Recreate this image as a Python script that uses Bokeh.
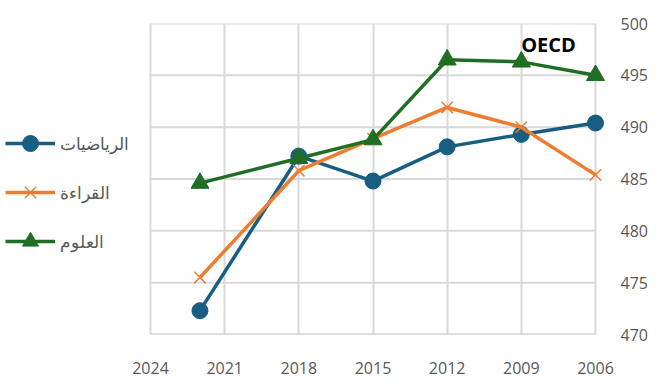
from bokeh.plotting import figure
from bokeh.models import Range1d, FixedTicker, Legend, LegendItem, Label
from bokeh.embed import file_html
from bokeh.resources import INLINE

years = [2022, 2018, 2015, 2012, 2009, 2006]
math_scores = [472.3, 487.2, 484.8, 488.1, 489.3, 490.4]
reading_scores = [475.5, 485.8, 488.9, 491.9, 490.0, 485.4]
science_scores = [484.6, 487.0, 488.8, 496.5, 496.3, 495.0]
series_names = ["الرياضيات", "القراءة", "العلوم"]
x_ticks = [2024, 2021, 2018, 2015, 2012, 2009, 2006]
y_ticks = [470, 475, 480, 485, 490, 495, 500]
title_text = "OECD"

FONT = "Open Sans"
GRAY = "#595959"
GRID = "#d9d9d9"
AXIS = "#bfbfbf"

# frame covers the legend area on the left and a little margin right of 2006
x_left = 2024 + 150 / 24.72
x_right = 2006 - 10 / 24.72

p = figure(width=657, height=382, output_backend="svg", toolbar_location=None,
           x_range=Range1d(x_left, x_right), y_range=Range1d(470, 500),
           y_axis_location="right",
           min_border_left=0, min_border_right=52, min_border_top=23, min_border_bottom=48)
p.outline_line_color = None
p.background_fill_color = "white"
p.border_fill_color = "white"

p.xaxis.ticker = FixedTicker(ticks=x_ticks)
p.yaxis.ticker = FixedTicker(ticks=y_ticks)
p.xgrid.ticker = FixedTicker(ticks=x_ticks)
p.xgrid.grid_line_color = GRID
p.xgrid.grid_line_width = 2
p.ygrid.grid_line_color = None
for ax in (p.xaxis, p.yaxis):
    ax.axis_line_color = None
    ax.major_tick_line_color = None
    ax.minor_tick_line_color = None
    ax.major_label_text_font = FONT
    ax.major_label_text_font_size = "16px"
    ax.major_label_text_color = GRAY
p.xaxis.major_label_standoff = 21
p.yaxis.major_label_standoff = 9

# horizontal gridlines limited to the plotting area 2024..2006
grid_y = [t for t in y_ticks if t != 470]
p.segment(x0=[x_ticks[0]] * len(grid_y), x1=[x_ticks[-1]] * len(grid_y),
          y0=grid_y, y1=grid_y, line_color=GRID, line_width=2)
p.segment(x0=[x_ticks[0]], x1=[x_ticks[-1]], y0=[y_ticks[0]], y1=[y_ticks[0]],
          line_color=AXIS, line_width=2)

colors = ["#175e82", "#ed7d31", "#1f6e23"]
r1 = p.line(years, math_scores, line_color=colors[0], line_width=3.5)
m1 = p.scatter(years, math_scores, marker="circle", size=16, fill_color=colors[0], line_color=colors[0])
r2 = p.line(years, reading_scores, line_color=colors[1], line_width=3.5)
m2 = p.scatter(years, reading_scores, marker="x", size=16, line_color=colors[1], line_width=1.5)
r3 = p.line(years, science_scores, line_color=colors[2], line_width=3.5)
m3 = p.scatter(years, science_scores, marker="triangle", size=18, fill_color=colors[2], line_color=colors[2])

legend = Legend(items=[
    LegendItem(label=series_names[0], renderers=[r1, m1]),
    LegendItem(label=series_names[1], renderers=[r2, m2]),
    LegendItem(label=series_names[2], renderers=[r3, m3]),
], location=(5, 73))
legend.glyph_width = 50
legend.glyph_height = 40
legend.label_height = 40
legend.spacing = 9
legend.padding = 0
legend.margin = 0
legend.label_standoff = 5
legend.border_line_color = None
legend.background_fill_alpha = 0
legend.label_text_font = FONT
legend.label_text_font_size = "17px"
legend.label_text_color = GRAY
p.add_layout(legend)

p.add_layout(Label(x=2007.9, y=497.95, text=title_text, text_align="center",
                   text_baseline="middle", text_font=FONT, text_font_size="20px",
                   text_font_style="bold", text_color="black"))

open("out.html", "w").write(file_html(p, INLINE))
